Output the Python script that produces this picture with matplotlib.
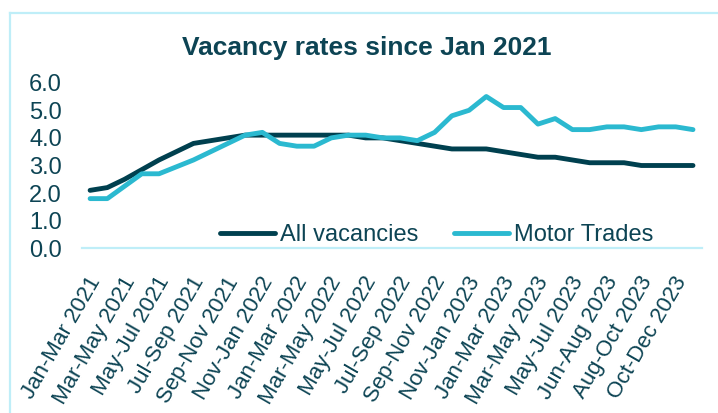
import matplotlib
matplotlib.use("Agg")
import matplotlib.pyplot as plt
import matplotlib.transforms as mtransforms
from matplotlib.lines import Line2D

plt.rcParams["font.family"] = ["Liberation Sans", "DejaVu Sans"]

# rolling three-month periods (only every second one is labelled on the axis)
PERIODS = [
    "Jan-Mar 2021", "Feb-Apr 2021", "Mar-May 2021", "Apr-Jun 2021", "May-Jul 2021", "Jun-Aug 2021",
    "Jul-Sep 2021", "Aug-Oct 2021", "Sep-Nov 2021", "Oct-Dec 2021", "Nov-Jan 2022", "Dec-Feb 2022",
    "Jan-Mar 2022", "Feb-Apr 2022", "Mar-May 2022", "Apr-Jun 2022", "May-Jul 2022", "Jun-Aug 2022",
    "Jul-Sep 2022", "Aug-Oct 2022", "Sep-Nov 2022", "Oct-Dec 2022", "Nov-Jan 2023", "Dec-Feb 2023",
    "Jan-Mar 2023", "Feb-Apr 2023", "Mar-May 2023", "Apr-Jun 2023", "May-Jul 2023", "May-Jul 2023",
    "Jun-Aug 2023", "Jul-Sep 2023", "Aug-Oct 2023", "Sep-Nov 2023", "Oct-Dec 2023", "Nov-Jan 2024",
]
ALL_VAC = [2.1, 2.2, 2.5, 2.85, 3.2, 3.5, 3.8, 3.9, 4.0, 4.1, 4.1, 4.1,
           4.1, 4.1, 4.1, 4.1, 4.0, 4.0, 3.9, 3.8, 3.7, 3.6, 3.6, 3.6,
           3.5, 3.4, 3.3, 3.3, 3.2, 3.1, 3.1, 3.1, 3.0, 3.0, 3.0, 3.0]
MOTOR = [1.8, 1.8, 2.25, 2.7, 2.7, 2.95, 3.2, 3.5, 3.8, 4.1, 4.2, 3.8,
         3.7, 3.7, 4.0, 4.1, 4.1, 4.0, 4.0, 3.9, 4.2, 4.8, 5.0, 5.5,
         5.1, 5.1, 4.5, 4.7, 4.3, 4.3, 4.4, 4.4, 4.3, 4.4, 4.4, 4.3]
YTICKS = [0, 1, 2, 3, 4, 5, 6]

DARK, CYAN, TXT, FRAME = "#00404f", "#2bb9d0", "#0d4454", "#bfeef8"

fig = plt.figure(figsize=(7.18, 4.13), dpi=100)
ax = fig.add_axes([81.5 / 718, 1 - 248.3 / 413, (701.6 - 81.5) / 718, (248.3 - 82.7) / 413])

xs = list(range(len(PERIODS)))
ax.plot(xs, ALL_VAC, color=DARK, lw=3.5, solid_capstyle="round", solid_joinstyle="round",
        label="All vacancies")
ax.plot(xs, MOTOR, color=CYAN, lw=3.5, solid_capstyle="round", solid_joinstyle="round",
        label="Motor Trades")

ax.set_xlim(-0.5, len(PERIODS) - 0.5)
ax.set_ylim(0, 6)
ax.set_yticks(YTICKS)
ax.set_yticklabels([f"{v:.1f}" for v in YTICKS])
ax.set_xticks(xs[::2])
ax.set_xticklabels(PERIODS[::2], rotation=60, ha="right", va="center", rotation_mode="anchor")
ax.tick_params(axis="both", length=0, labelcolor=TXT)
ax.tick_params(axis="y", pad=14, labelsize=17)
ax.tick_params(axis="x", pad=20, labelsize=16)
shift = mtransforms.ScaledTranslation(6 / 100, -2 / 100, fig.dpi_scale_trans)
for lab in ax.get_xticklabels():
    lab.set_transform(lab.get_transform() + shift)
for s in ("top", "right", "left"):
    ax.spines[s].set_visible(False)
ax.spines["bottom"].set_color(FRAME)
ax.spines["bottom"].set_linewidth(1.6)

fig.legend(loc="center", bbox_to_anchor=(437 / 718, 1 - 235 / 413), ncol=2, frameon=False,
           fontsize=17, labelcolor=TXT, handlelength=2.3, handletextpad=0.25, columnspacing=1.5,
           borderpad=0, borderaxespad=0)

fig.text(367 / 718, 1 - 48 / 413, "Vacancy rates since Jan 2021", ha="center", va="center",
         fontsize=19, fontweight="bold", color=TXT)

# chart-area frame (only left and top edges are inside the crop)
fig.add_artist(Line2D([9.5 / 718, 9.5 / 718], [0, 1 - 12.7 / 413], color=FRAME, lw=1.6))
fig.add_artist(Line2D([9.5 / 718, 1], [1 - 12.7 / 413, 1 - 12.7 / 413], color=FRAME, lw=1.6))

fig.savefig("out.png", dpi=100)
